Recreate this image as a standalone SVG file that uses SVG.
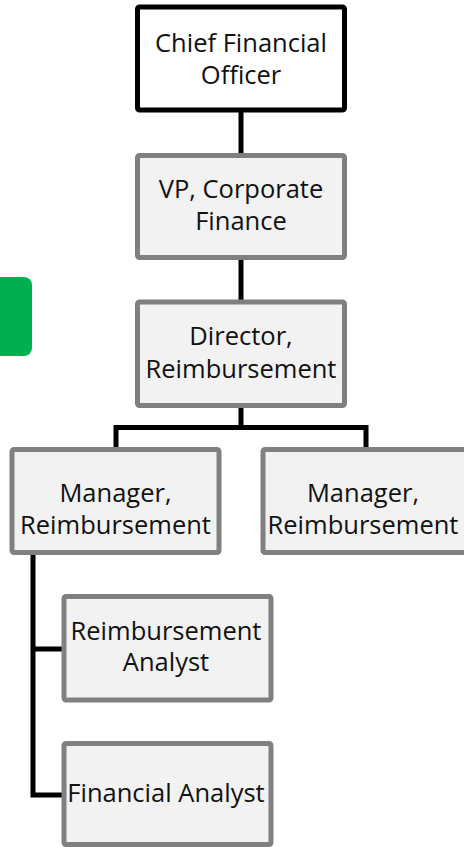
<svg xmlns="http://www.w3.org/2000/svg" width="464" height="847" viewBox="0 0 464 847">
  <style>
    .box { fill: #f2f2f2; stroke: #808080; stroke-width: 5; }
    .top { fill: #ffffff; stroke: #000000; stroke-width: 5; }
    .label { font-family: "Open Sans", "Liberation Sans", sans-serif; font-size: 25.5px; fill: #111111; text-anchor: middle; }
    .link { fill: none; stroke: #000000; stroke-width: 5; stroke-linejoin: miter; }
  </style>

  <!-- side tab -->
  <rect id="tab" x="-10" y="277" width="42" height="79" rx="8" fill="#00b050"/>

  <!-- reporting lines -->
  <g id="connectors">
    <line class="link" x1="241" y1="112" x2="241" y2="154"/>
    <line class="link" x1="241" y1="259" x2="241" y2="301"/>
    <path class="link" d="M241 407 V427.5 M116 448 V427.5 H366 V448"/>
    <path class="link" d="M33 554 V795 H63 M33 649 H63"/>
  </g>

  <g id="cfo">
    <rect class="top" x="137.5" y="7" width="207" height="103" rx="2"/>
    <text class="label" x="241" y="52">Chief Financial</text>
    <text class="label" x="241" y="84">Officer</text>
  </g>

  <g id="vp">
    <rect class="box" x="137.5" y="155.5" width="207" height="102" rx="2"/>
    <text class="label" x="241" y="197.5">VP, Corporate</text>
    <text class="label" x="241" y="230">Finance</text>
  </g>

  <g id="director">
    <rect class="box" x="137.5" y="302" width="207" height="103.5" rx="2"/>
    <text class="label" x="241" y="345">Director,</text>
    <text class="label" x="241" y="377.5">Reimbursement</text>
  </g>

  <g id="manager-left">
    <rect class="box" x="12" y="449.5" width="207" height="103" rx="2"/>
    <text class="label" x="115.5" y="501.5">Manager,</text>
    <text class="label" x="115.5" y="533.5">Reimbursement</text>
  </g>

  <g id="manager-right">
    <rect class="box" x="263" y="449.5" width="207" height="103" rx="2"/>
    <text class="label" x="363" y="501.5">Manager,</text>
    <text class="label" x="363" y="533.5">Reimbursement</text>
  </g>

  <g id="reimbursement-analyst">
    <rect class="box" x="64" y="596.5" width="207" height="103.5" rx="2"/>
    <text class="label" x="166" y="640">Reimbursement</text>
    <text class="label" x="166" y="671">Analyst</text>
  </g>

  <g id="financial-analyst">
    <rect class="box" x="64" y="743.5" width="207" height="101" rx="2"/>
    <text class="label" x="166" y="801.5">Financial Analyst</text>
  </g>
</svg>
